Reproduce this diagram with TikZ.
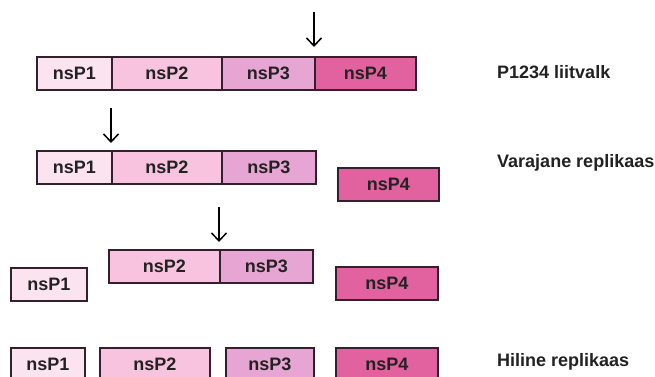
\documentclass[tikz,border=0pt]{standalone}
\usepackage{fontspec}
\setmainfont{Liberation Sans}
\usetikzlibrary{arrows.meta}
\definecolor{cA}{HTML}{FBE4F0}
\definecolor{cB}{HTML}{F7C3DF}
\definecolor{cC}{HTML}{E6A5D2}
\definecolor{cD}{HTML}{E2629F}
\definecolor{edge}{HTML}{33202C}
\definecolor{ink}{HTML}{222222}
\tikzset{
  seg/.style={draw=edge, line width=1.6pt, minimum height=33pt, inner sep=0pt,
    anchor=north west, text=ink, font=\fontsize{18}{21}\selectfont\bfseries},
  lbl/.style={anchor=west, inner sep=0pt, text=ink, font=\fontsize{18}{21}\selectfont\bfseries},
  cut/.style={-{Straight Barb[length=8pt,width=15pt]}, line width=1.5pt, black}
}
\begin{document}
\begin{tikzpicture}[x=1pt,y=-1pt]
\path[use as bounding box, clip] (0,0) rectangle (655,376);
\fill[white] (0,0) rectangle (655,376);
% row 1
\node[seg, fill=cA, minimum width=75pt]  (a1) at (36,56)  {nsP1};
\node[seg, fill=cB, minimum width=110pt] (a2) at (111,56) {nsP2};
\node[seg, fill=cC, minimum width=93pt]  (a3) at (221,56) {nsP3};
\node[seg, fill=cD, minimum width=101pt] (a4) at (314,56) {nsP4};
\node[lbl] (l1) at (497,72) {P1234 liitvalk};
\coordinate (s1) at (314,12);
\coordinate (e1) at (314,47);
\draw[cut] (s1) -- (e1);
% row 2
\node[seg, fill=cA, minimum width=75pt]  (b1) at (36,150)  {nsP1};
\node[seg, fill=cB, minimum width=110pt] (b2) at (111,150) {nsP2};
\node[seg, fill=cC, minimum width=94pt]  (b3) at (221,150) {nsP3};
\node[seg, fill=cD, minimum width=101pt] (b4) at (337,167) {nsP4};
\node[lbl] (l2) at (497,163) {Varajane replikaas};
\coordinate (s2) at (111,108);
\coordinate (e2) at (111,143);
\draw[cut] (s2) -- (e2);
% row 3
\node[seg, fill=cA, minimum width=76pt]  (c1) at (10,267)  {nsP1};
\node[seg, fill=cB, minimum width=111pt] (c2) at (108,249) {nsP2};
\node[seg, fill=cC, minimum width=93pt]  (c3) at (219,249) {nsP3};
\node[seg, fill=cD, minimum width=102pt] (c4) at (335,266) {nsP4};
\coordinate (s3) at (219,207);
\coordinate (e3) at (219,242);
\draw[cut] (s3) -- (e3);
% row 4
\node[seg, fill=cA, minimum width=74pt]  (d1) at (10,347)  {nsP1};
\node[seg, fill=cB, minimum width=110pt] (d2) at (99,347)  {nsP2};
\node[seg, fill=cC, minimum width=88pt]  (d3) at (225,347) {nsP3};
\node[seg, fill=cD, minimum width=102pt] (d4) at (335,347) {nsP4};
\node[lbl] (l3) at (497,362) {Hiline replikaas};
\end{tikzpicture}
\end{document}
